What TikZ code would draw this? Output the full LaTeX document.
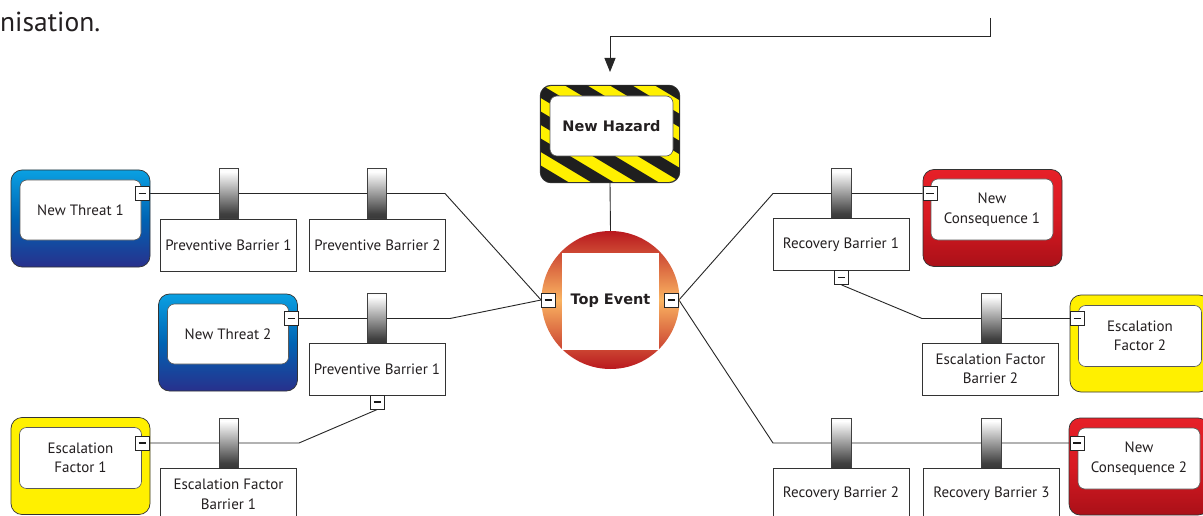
\documentclass[tikz,border=0pt]{standalone}
\usepackage{fontspec}
\setmainfont{PT Sans}
\newfontfamily\dvb{DejaVu Sans}
\usetikzlibrary{arrows.meta}
\definecolor{txt}{RGB}{35,31,32}
\definecolor{blT}{RGB}{10,160,226}
\definecolor{blM}{RGB}{0,100,180}
\definecolor{blB}{RGB}{40,48,140}
\definecolor{rdT}{RGB}{230,32,40}
\definecolor{rdM}{RGB}{215,26,34}
\definecolor{rdB}{RGB}{170,16,24}
\definecolor{yel}{RGB}{255,240,0}
\definecolor{ciR}{RGB}{185,24,30}
\definecolor{ciO}{RGB}{250,180,98}
\pgfdeclareverticalshading{pill}{100bp}{color(0bp)=(black!92); color(30bp)=(black!75); color(72bp)=(white); color(100bp)=(black!18)}
\pgfdeclarelayer{bg}
\pgfsetlayers{bg,main}
\begin{document}
\begin{tikzpicture}[x=1pt,y=-1pt,
  lbl/.style={font=\fontsize{15}{19.5}\selectfont, text=txt, align=center},
  outer/.style={draw=black!80, line width=0.7pt, rounded corners=11pt, minimum width=139pt, minimum height=97pt, inner sep=0pt},
  threat/.style={outer, top color=blT, bottom color=blB, middle color=blM},
  conseq/.style={outer, top color=rdT, bottom color=rdB, middle color=rdM},
  escal/.style={outer, fill=yel},
  inner/.style={lbl, draw=black!65, line width=0.6pt, fill=white, rounded corners=7pt, minimum width=122pt, minimum height=61pt, inner sep=0pt},
  minus/.style={draw=black!85, line width=0.8pt, fill=white, minimum size=14pt, inner sep=0pt,
    path picture={\draw[line width=1.8pt, black!90] ([xshift=-3.8pt]path picture bounding box.center) -- ([xshift=3.8pt]path picture bounding box.center);}},
  pillar/.style={draw=black!75, line width=0.6pt, shading=pill, minimum width=19.5pt, minimum height=50pt, inner sep=0pt},
  barrier/.style={lbl, draw=black!80, line width=0.7pt, fill=white, minimum width=136pt, minimum height=52pt, inner sep=0pt},
  conn/.style={draw=black!85, line width=0.9pt},
  boldlbl/.style={font=\dvb\bfseries\fontsize{14.5}{17}\selectfont, text=txt}
]
\useasboundingbox (0,0) rectangle (1203,516);
\begin{pgfonlayer}{bg}
\fill[white] (0,0) rectangle (1203,516);
\end{pgfonlayer}

\node[anchor=base west, font=\fontsize{27.5}{32}\selectfont, text=txt, inner sep=0pt] (cap) at (0,32) {nisation.};

% Hazard
\node[outer, fill=yel] (hz) at (610,134) {};
\begin{scope}
  \clip[rounded corners=11pt] (hz.north west) rectangle (hz.south east);
  \foreach \k in {-7,...,7}{
    \pgfmathsetmacro\xs{612+45*\k}
    \draw[line width=11.5pt, black!88] (\xs-120,62) -- (\xs+120,206);
  }
\end{scope}
\draw[draw=black!80, line width=0.7pt, rounded corners=11pt] (hz.north west) rectangle (hz.south east);
\node[inner, boldlbl, minimum width=123pt, minimum height=60pt] (hzi) at (611.5,126) {New Hazard};

% Top event
\node[circle, minimum size=138pt, inner sep=0pt, top color=ciR, bottom color=ciR, middle color=ciO] (te) at (610.5,300) {};
\node[fill=white, minimum size=97pt, inner sep=0pt, boldlbl] (tes) at (610.5,301) {Top Event};
\node[minus] (tlm) at (548.5,300) {};
\node[minus] (trm) at (671.5,300) {};

% Threats / consequences / escalation
\node[threat] (t1) at (80.5,218.5) {};
\node[inner, minimum width=121pt, minimum height=60pt] (t1i) at (80.5,210) {New Threat 1};
\node[minus] (m1) at (142.5,193.5) {};

\node[threat] (t2) at (228,342.5) {};
\node[inner, minimum width=121pt, minimum height=60pt] (t2i) at (228,334) {New Threat 2};
\node[minus] (m2) at (291.5,318.5) {};

\node[escal] (ef1) at (80.5,466) {};
\node[inner] (ef1i) at (80.5,458) {Escalation\\Factor 1};
\node[minus] (mef1) at (142.5,443) {};

\node[conseq] (nc1) at (992.5,218) {};
\node[inner] (nc1i) at (992,209.5) {New\\Consequence 1};
\node[minus] (mnc1) at (930,193.5) {};

\node[escal, minimum width=140pt] (ef2) at (1140,343.5) {};
\node[inner, minimum width=123pt] (ef2i) at (1140,336) {Escalation\\Factor 2};
\node[minus] (mef2) at (1077.5,318.5) {};

\node[conseq, minimum width=140pt] (nc2) at (1139,466.5) {};
\node[inner, minimum width=122pt] (nc2i) at (1139,458.5) {New\\Consequence 2};
\node[minus] (mnc2) at (1077,443) {};

% Barriers
\node[pillar] (p1) at (229,193.5) {};
\node[barrier] (pb1) at (228.5,245) {Preventive Barrier 1};
\node[pillar] (p2) at (377,193.5) {};
\node[barrier] (pb2) at (377.5,245) {Preventive Barrier 2};

\node[pillar] (p3) at (377,318.5) {};
\node[barrier] (pb3) at (377,369.5) {Preventive Barrier 1};
\node[minus] (mpb3) at (377.5,402) {};

\node[pillar] (p4) at (229,443) {};
\node[barrier] (efb1) at (228.5,494.5) {Escalation Factor\\Barrier 1};

\node[pillar] (p5) at (841.5,193.5) {};
\node[barrier] (rb1) at (841,244.5) {Recovery Barrier 1};
\node[minus] (mrb1) at (841.5,277.5) {};

\node[pillar] (p6) at (991.5,318.5) {};
\node[barrier] (efb2) at (990.5,369) {Escalation Factor\\Barrier 2};

\node[pillar] (p7) at (841.5,443) {};
\node[barrier] (rb2) at (841,494) {Recovery Barrier 2};
\node[pillar] (p8) at (991.5,443) {};
\node[barrier] (rb3) at (991.5,494) {Recovery Barrier 3};

% Bend points
\coordinate (bl1) at (445,193.5);
\coordinate (bl2) at (450,318.5);
\coordinate (bl3) at (299,443);
\coordinate (br1) at (773,193.5);
\coordinate (br2) at (922,318.5);
\coordinate (br3) at (773,443);
\coordinate (src) at (990,18);
\coordinate (tip) at (610,72);

\begin{pgfonlayer}{bg}
  \draw[conn] (m1.east) -- (bl1) -- (tlm.west);
  \draw[conn] (m2.east) -- (bl2) -- (tlm.west);
  \draw[conn] (mpb3.south) -- (bl3) -- (mef1.east);
  \draw[conn] (trm.east) -- (br1) -- (mnc1.west);
  \draw[conn] (mrb1.south) -- (br2) -- (mef2.west);
  \draw[conn] (trm.east) -- (br3) -- (mnc2.west);
  \draw[conn] (hz.south) -- (te.north);
\end{pgfonlayer}
\draw[conn, -{Triangle[length=14pt,width=11pt]}] (src) -- ++(0,18.5) -| (tip);
\end{tikzpicture}
\end{document}
